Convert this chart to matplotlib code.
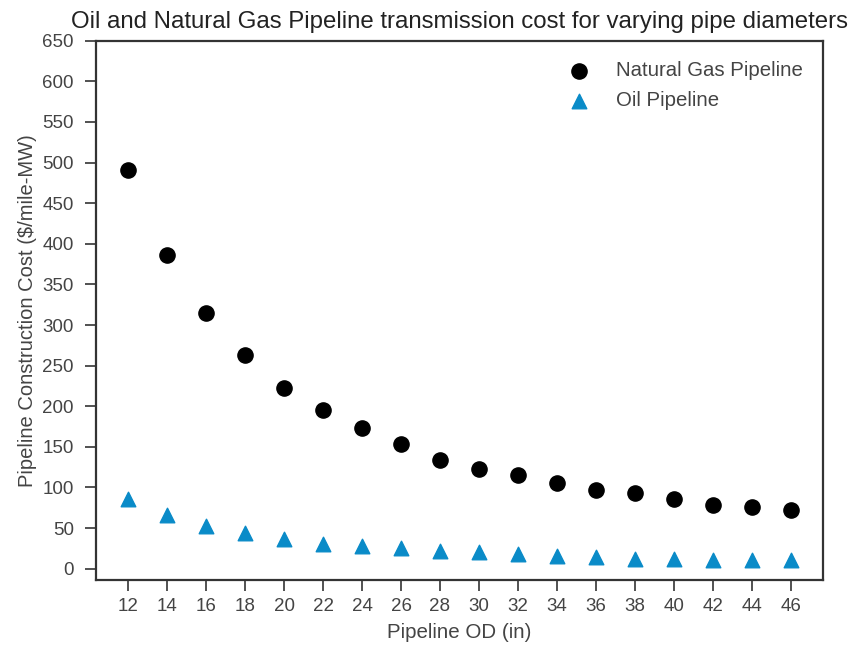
import numpy as np
import matplotlib
matplotlib.use("Agg")
import matplotlib.pyplot as plt

# values
diameters = [12, 14, 16, 18, 20, 22, 24, 26, 28, 30, 32, 34, 36, 38, 40, 42, 44, 46]
gas_cost = [491, 386, 315, 263, 222, 195, 173, 153, 134, 123, 115, 106, 97, 93, 86, 78, 76, 72]
oil_cost = [86, 66, 53, 44, 37, 31, 28, 25, 22, 20, 18, 16, 14, 12, 12.5, 10.5, 11, 10.5]
yticks = list(range(0, 651, 50))

plt.rcParams['font.family'] = ['Liberation Sans', 'DejaVu Sans']
text_col = '#444444'

fig = plt.figure(figsize=(8.58, 6.46), dpi=100)
ax = fig.add_axes([0.112, 0.102, 0.847, 0.835])

ax.scatter(diameters, gas_cost, s=120, color='black', marker='o', label='Natural Gas Pipeline', zorder=3)
ax.scatter(diameters, oil_cost, s=110, color='#0a8bc8', marker='^', label='Oil Pipeline', zorder=3)

ax.set_xlim(10.35, 47.65)
ax.set_ylim(-14, 650)
ax.set_xticks(diameters)
ax.set_yticks(yticks)
ax.tick_params(axis='both', direction='out', length=8, width=1.2, colors='#333333',
               labelsize=13.5, labelcolor=text_col, pad=5)
ax.tick_params(axis='y', pad=8)
for sp in ax.spines.values():
    sp.set_linewidth(1.6)
    sp.set_color('#333333')

ax.set_title('Oil and Natural Gas Pipeline transmission cost for varying pipe diameters',
             fontsize=17.3, color='#222222', pad=9)
ax.set_xlabel('Pipeline OD (in)', fontsize=14.8, color=text_col, labelpad=6)
ax.set_ylabel('Pipeline Construction Cost ($/mile-MW)', fontsize=14.5, color=text_col, labelpad=4)

leg = ax.legend(loc='upper right', frameon=False, fontsize=14.7, borderaxespad=0.6,
                handletextpad=0.8, labelspacing=0.55)
for t in leg.get_texts():
    t.set_color(text_col)

fig.savefig('out.png', dpi=100)
